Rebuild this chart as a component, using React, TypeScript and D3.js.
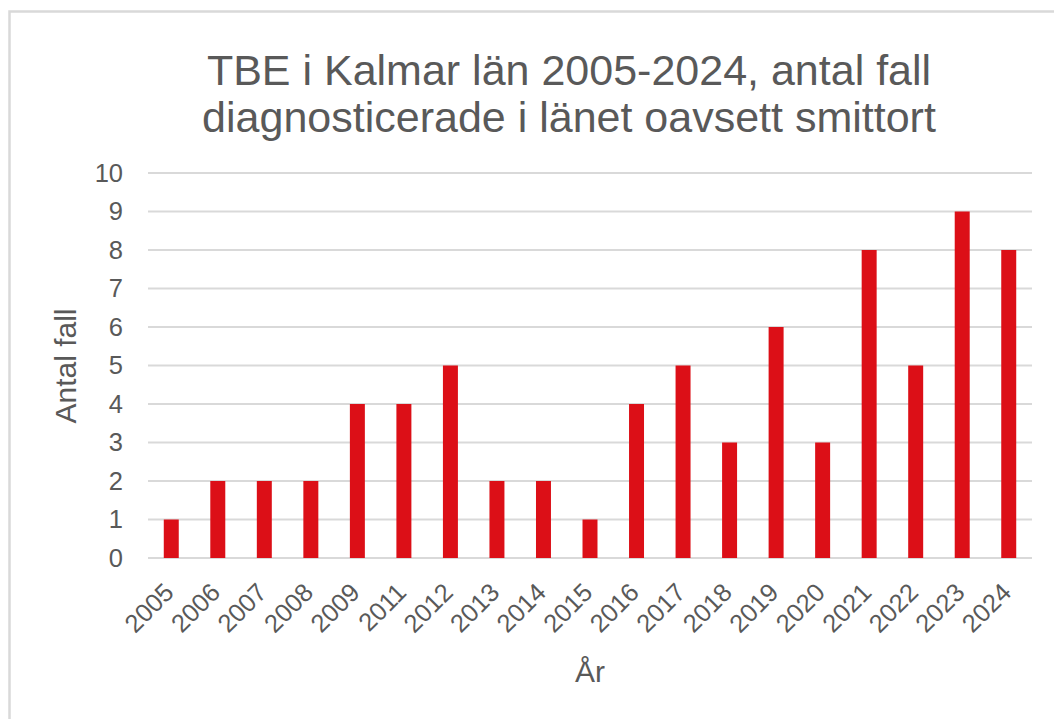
import React from 'react';
import * as d3 from 'd3';

const years = ['2005','2006','2007','2008','2009','2011','2012','2013','2014','2015','2016','2017','2018','2019','2020','2021','2022','2023','2024'];
const cases = [1,2,2,2,4,4,5,2,2,1,4,5,3,6,3,8,5,9,8];
const yTicks = [0,1,2,3,4,5,6,7,8,9,10];
const titleLines = ['TBE i Kalmar län 2005-2024, antal fall', 'diagnosticerade i länet oavsett smittort'];
const yAxisTitle = 'Antal fall';
const xAxisTitle = 'År';

const W = 1054, H = 719;
const FONT = '"Liberation Sans", Arial, sans-serif';
const TEXT = '#595959';
const GRID = '#d9d9d9';
const BAR = '#dc0f17';

export default function App() {
  const left = 148, right = 1032, top = 173, bottom = 558;
  const x = d3.scaleBand<string>().domain(years).range([left, right]).paddingInner(0.678).paddingOuter(0.339);
  const y = d3.scaleLinear().domain([0, 10]).range([bottom, top]);
  return (
    <svg width={W} height={H} style={{ position: 'absolute', left: 0, top: 0, display: 'block', background: '#fff' }} fontFamily={FONT}>
      <rect x={0} y={0} width={W} height={H} fill="#fff" />
      <rect x={9.5} y={11.5} width={1200} height={900} fill="#fff" stroke={GRID} strokeWidth={2.5} />
      {titleLines.map((t, i) => (
        <text key={i} x={569} y={85 + i * 47} textAnchor="middle" fontSize={43} fill={TEXT}>{t}</text>
      ))}
      {yTicks.map(t => (
        <g key={t}>
          <line x1={left} x2={right} y1={y(t)} y2={y(t)} stroke={GRID} strokeWidth={2} />
          <text x={123} y={y(t)} dy="0.35em" textAnchor="end" fontSize={25.5} fill={TEXT}>{t}</text>
        </g>
      ))}
      {years.map((yr, i) => (
        <rect key={yr} x={x(yr)} y={y(cases[i])} width={x.bandwidth()} height={y(0) - y(cases[i])} fill={BAR} />
      ))}
      {years.map(yr => {
        const cx = (x(yr) as number) + x.bandwidth() / 2 + 4;
        const cy = bottom + 36;
        return (
          <text key={yr} x={cx} y={cy} transform={`rotate(-45 ${cx} ${cy})`} textAnchor="end" fontSize={25.5} fill={TEXT}>{yr}</text>
        );
      })}
      <text x={0} y={0} transform={`translate(76 366) rotate(-90)`} textAnchor="middle" fontSize={30} fill={TEXT}>{yAxisTitle}</text>
      <text x={590} y={682} textAnchor="middle" fontSize={30} fill={TEXT}>{xAxisTitle}</text>
    </svg>
  );
}
